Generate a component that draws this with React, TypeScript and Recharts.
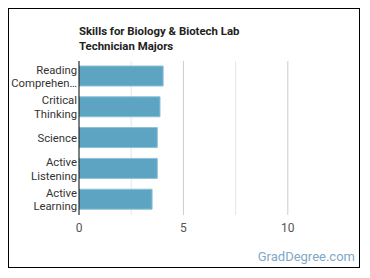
import React from 'react';
import { BarChart, Bar, XAxis, YAxis, ReferenceLine } from 'recharts';

const skills = ['Reading Comprehension', 'Critical Thinking', 'Science', 'Active Listening', 'Active Learning'];
const skillLines = [['Reading', 'Comprehen…'], ['Critical', 'Thinking'], ['Science'], ['Active', 'Listening'], ['Active', 'Learning']];
const scores = [4.03, 3.88, 3.75, 3.75, 3.5];
const xTicks = [0, 2.5, 5, 7.5, 10];
const xMax = 12.5;

const data = skills.map((name, i) => ({ name, score: scores[i] }));

const font = 'Roboto, "Open Sans", sans-serif';

function SkillTick({ x, y, payload }: any) {
  const lines = skillLines[skills.indexOf(payload.value)] || [payload.value];
  const lh = 13.5;
  const start = -((lines.length - 1) * lh) / 2;
  const tx = x + 6;
  return (
    <text x={tx} y={y} textAnchor="end" fill="#333" fontSize={11.3} fontFamily={font}>
      {lines.map((l, i) => (
        <tspan key={i} x={tx} y={y + start + i * lh} dy="0.35em">
          {l}
        </tspan>
      ))}
    </text>
  );
}

export default function App() {
  return (
    <div
      style={{
        position: 'relative',
        width: 350,
        height: 258,
        border: '1px solid #000',
        background: '#fff',
        fontFamily: font,
      }}
    >
      <div
        style={{
          position: 'absolute',
          left: 70,
          top: 15,
          fontSize: 11.4,
          fontWeight: 700,
          lineHeight: '15px',
          color: '#222',
        }}
      >
        Skills for Biology &amp; Biotech Lab
        <br />
        Technician Majors
      </div>
      <BarChart
        width={350}
        height={258}
        data={data}
        layout="vertical"
        margin={{ top: 52, right: 19, bottom: 22, left: 0 }}
        barSize={20}
      >
        <XAxis
          type="number"
          domain={[0, xMax]}
          ticks={xTicks}
          tickFormatter={(v: number) => (v % 5 === 0 ? String(v) : '')}
          axisLine={false}
          tickLine={false}
          tick={{ fill: '#555', fontSize: 12, fontFamily: font }}
          height={30}
          allowDataOverflow
        />
        <YAxis
          type="category"
          dataKey="name"
          width={70}
          axisLine={{ stroke: '#000' }}
          tickLine={false}
          tick={<SkillTick />}
          interval={0}
        />
        {xTicks.slice(1).map((v) => (
          <ReferenceLine key={v} x={v} stroke={v % 5 === 0 ? '#ccc' : '#e6e6e6'} zIndex={-100} />
        ))}
        <Bar dataKey="score" fill="#5ca4c2" stroke="#8cc2d6" strokeWidth={1} isAnimationActive={false} />
      </BarChart>
      <div
        style={{
          position: 'absolute',
          right: 4,
          bottom: 3,
          fontSize: 13,
          color: '#7fa8c6',
        }}
      >
        GradDegree.com
      </div>
    </div>
  );
}
